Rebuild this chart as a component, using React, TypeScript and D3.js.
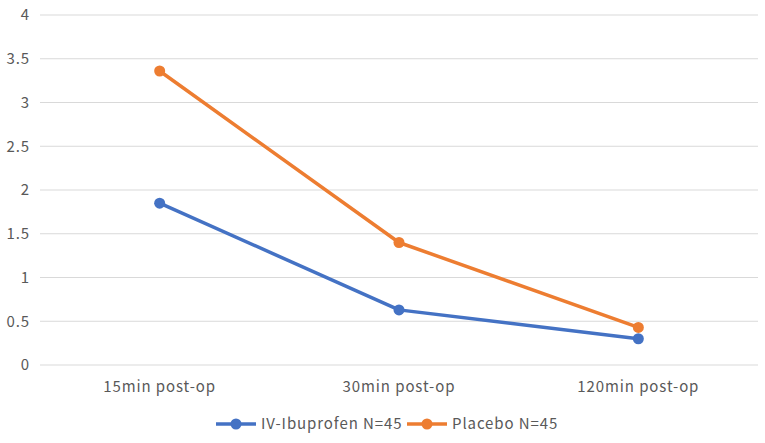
import { useEffect, useRef } from "react";
import * as d3 from "d3";

const categories = ["15min post-op", "30min post-op", "120min post-op"];
const ibuprofen = [1.85, 0.63, 0.3];
const placebo = [3.36, 1.4, 0.43];
const yTicks = [0, 0.5, 1, 1.5, 2, 2.5, 3, 3.5, 4];

const series = [
  { name: "IV-Ibuprofen N=45", values: ibuprofen, color: "#4472C4" },
  { name: "Placebo N=45", values: placebo, color: "#ED7D31" },
];

const W = 765;
const H = 443;
const FONT = "'Noto Sans CJK SC', 'Noto Sans', sans-serif";
const FS = 15;
const LS = 0.9;

export default function App() {
  const svgRef = useRef<SVGSVGElement>(null);

  useEffect(() => {
    if (!svgRef.current) return;
    const svg = d3.select(svgRef.current);
    svg.selectAll("*").remove();

    const margin = { top: 15, right: 7, bottom: 78, left: 40 };
    const plotW = W - margin.left - margin.right;
    const plotH = H - margin.top - margin.bottom;

    const x = d3.scaleBand().domain(categories).range([0, plotW]);
    const y = d3.scaleLinear().domain([0, 4]).range([plotH, 0]);

    const g = svg
      .append("g")
      .attr("transform", `translate(${margin.left},${margin.top})`);

    // grid
    g.append("g")
      .selectAll("line")
      .data(yTicks)
      .enter()
      .append("line")
      .attr("x1", 0)
      .attr("x2", plotW)
      .attr("y1", (d) => y(d))
      .attr("y2", (d) => y(d))
      .attr("stroke", "#d9d9d9")
      .attr("stroke-width", 1);

    // y labels
    g.append("g")
      .selectAll("text")
      .data(yTicks)
      .enter()
      .append("text")
      .attr("x", -10)
      .attr("y", (d) => y(d))
      .attr("dy", "0.35em")
      .attr("text-anchor", "end")
      .attr("font-size", FS)
      .attr("letter-spacing", LS)
      .attr("font-family", FONT)
      .attr("fill", "#595959")
      .text((d) => String(d));

    // x labels
    g.append("g")
      .selectAll("text")
      .data(categories)
      .enter()
      .append("text")
      .attr("x", (d) => (x(d) ?? 0) + x.bandwidth() / 2)
      .attr("y", plotH + 22)
      .attr("dy", "0.35em")
      .attr("text-anchor", "middle")
      .attr("font-size", FS)
      .attr("letter-spacing", LS)
      .attr("font-family", FONT)
      .attr("fill", "#595959")
      .text((d) => d);

    const line = d3
      .line<number>()
      .x((_, i) => (x(categories[i]) ?? 0) + x.bandwidth() / 2)
      .y((d) => y(d));

    series.forEach((s) => {
      g.append("path")
        .datum(s.values)
        .attr("d", line)
        .attr("fill", "none")
        .attr("stroke", s.color)
        .attr("stroke-width", 3.5)
        .attr("stroke-linejoin", "round");
      g.selectAll(null)
        .data(s.values)
        .enter()
        .append("circle")
        .attr("cx", (_, i) => (x(categories[i]) ?? 0) + x.bandwidth() / 2)
        .attr("cy", (d) => y(d))
        .attr("r", 5.5)
        .attr("fill", s.color);
    });

    // legend
    const legendY = 424;
    const legendX = [216, 407];
    series.forEach((s, i) => {
      const lg = svg.append("g").attr("transform", `translate(${legendX[i]},${legendY})`);
      lg.append("line")
        .attr("x1", 0)
        .attr("x2", 40)
        .attr("y1", 0)
        .attr("y2", 0)
        .attr("stroke", s.color)
        .attr("stroke-width", 3.5);
      lg.append("circle").attr("cx", 20).attr("cy", 0).attr("r", 5.5).attr("fill", s.color);
      lg.append("text")
        .attr("x", 45)
        .attr("y", 0)
        .attr("dy", "0.35em")
        .attr("font-size", FS)
        .attr("letter-spacing", LS)
        .attr("font-family", FONT)
        .attr("fill", "#595959")
        .text(s.name);
    });
  }, []);

  return (
    <svg
      ref={svgRef}
      width={W}
      height={H}
      style={{ position: "absolute", left: 0, top: 0, background: "#fff" }}
    />
  );
}
